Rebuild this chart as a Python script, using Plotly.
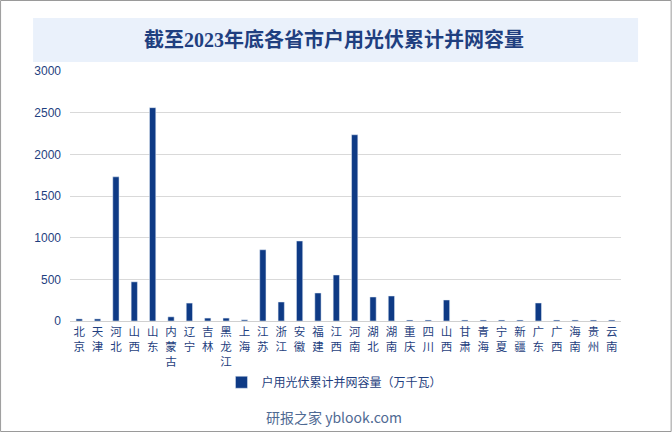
import plotly.graph_objects as go

provinces = ['北京', '天津', '河北', '山西', '山东', '内蒙古', '辽宁', '吉林', '黑龙江', '上海',
             '江苏', '浙江', '安徽', '福建', '江西', '河南', '湖北', '湖南', '重庆', '四川',
             '山西 ', '甘肃', '青海', '宁夏', '新疆', '广东', '广西', '海南', '贵州', '云南']
capacity = [25, 25, 1730, 470, 2560, 50, 215, 35, 35, 14,
            855, 228, 960, 336, 552, 2235, 288, 300, 12, 12,
            252, 12, 12, 12, 12, 216, 12, 12, 12, 12]

series_name = '户用光伏累计并网容量（万千瓦）'
title_text = '截至2023年底各省市户用光伏累计并网容量'
footer_text = '研报之家 yblook.com'

blue = '#0E3A85'
text_blue = '#1F3F80'

# vertical labels: one character per line
tick_text = ['<br>'.join(list(p.strip())) for p in provinces]

fig = go.Figure()

fig.add_trace(go.Bar(
    x=provinces,
    y=capacity,
    name=series_name,
    marker_color=blue,
    showlegend=True,
))

# title background box
fig.add_shape(type='rect', xref='paper', yref='paper',
              x0=-0.067, x1=1.031, y0=1.036, y1=1.212,
              fillcolor='#EAF1FB', line_width=0, layer='below')

# outer border
fig.add_shape(type='rect', xref='paper', yref='paper',
              x0=-0.126, x1=1.091, y0=-0.442, y1=1.282,
              line=dict(color='#9A9A9A', width=1), fillcolor='rgba(0,0,0,0)')

fig.add_annotation(text=title_text, xref='paper', yref='paper',
                   x=0.48, y=1.124, yanchor='middle', showarrow=False,
                   font=dict(family='Liberation Serif, Noto Sans CJK SC', size=20,
                             color=text_blue, weight='bold'))

fig.add_annotation(text=footer_text, xref='paper', yref='paper',
                   x=0.48, y=-0.384, yanchor='middle', showarrow=False,
                   font=dict(family='Noto Sans CJK SC, Liberation Sans', size=14,
                             color='#4F6A93'))

fig.update_layout(
    width=672, height=432,
    margin=dict(l=70, r=51, t=71, b=111),
    paper_bgcolor='white',
    plot_bgcolor='white',
    bargap=0.66,
    font=dict(family='Liberation Sans, Noto Sans CJK SC', color=text_blue),
    legend=dict(orientation='h', x=0.48, xanchor='center', y=-0.245, yanchor='middle',
                font=dict(family='Noto Sans CJK SC', size=12, color=text_blue),
                itemwidth=30),
)

fig.update_xaxes(
    tickmode='array', tickvals=provinces, ticktext=tick_text,
    tickfont=dict(family='Noto Sans CJK SC', size=11.5, color=text_blue),
    showline=True, linecolor='#D0D0D0', linewidth=1,
    ticks='', tickangle=0,
)

fig.update_yaxes(
    range=[0, 3000], dtick=500,
    showgrid=True, gridcolor='#D9D9D9', gridwidth=1,
    zeroline=False,
    tickfont=dict(family='Liberation Sans', size=12, color=text_blue),
    ticklabelstandoff=8,
)

fig.write_html('out.html', config={'displayModeBar': False},
               post_script="document.body.style.margin='0';")
